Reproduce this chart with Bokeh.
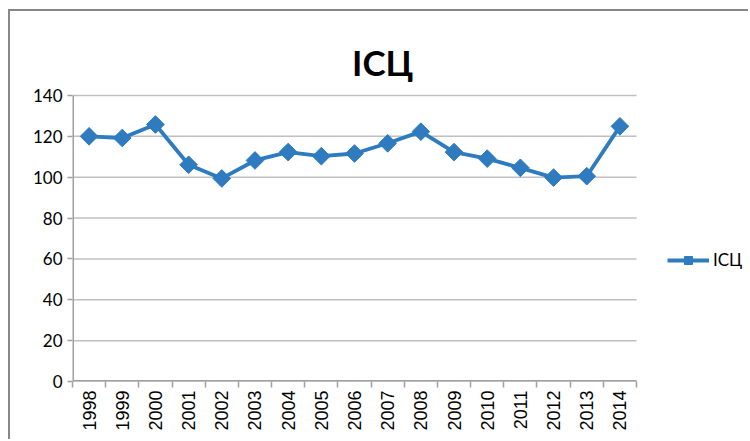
import math
from bokeh.plotting import figure
from bokeh.models import Range1d, FixedTicker, Legend, LegendItem, Label
from bokeh.embed import file_html
from bokeh.resources import INLINE

years = [1998, 1999, 2000, 2001, 2002, 2003, 2004, 2005, 2006,
         2007, 2008, 2009, 2010, 2011, 2012, 2013, 2014]
cpi = [120.0, 119.2, 125.8, 106.1, 99.4, 108.2, 112.3, 110.3, 111.6,
       116.6, 122.3, 112.3, 109.1, 104.6, 99.8, 100.5, 124.9]
y_ticks = [0, 20, 40, 60, 80, 100, 120, 140]
series_name = "ІСЦ"
title_text = "ІСЦ"

BLUE = "#2E7BBF"
GRID = "#C0C0C0"
AXIS = "#A0A0A0"

W, H = 740, 430
LEFT, TOP, BOTTOM = 62, 15, 60
# plot area of the reference: x 72..636, y 95..381 (page); frame extends
# further to hold title and legend
x0 = years[0] - 0.5
x1 = years[-1] + 0.5
frame_w = W - LEFT
x_end = x0 + (x1 - x0) * frame_w / (636 - 72)
y_top = y_ticks[-1] * (381 - 26) / (381 - 95)

p = figure(width=W, height=H, output_backend="svg", toolbar_location=None,
           x_range=Range1d(x0, x_end), y_range=Range1d(y_ticks[0], y_top),
           min_border_left=LEFT, min_border_right=0,
           min_border_top=TOP, min_border_bottom=BOTTOM,
           styles={"margin-left": "10px", "margin-top": "11px",
                   "box-shadow": "-2px -2px 0 0 #888888"})
p.outline_line_color = None
p.background_fill_color = "white"
p.border_fill_color = "white"
p.title.text = ""

# horizontal gridlines limited to the category span
p.segment(x0=[x0] * len(y_ticks), y0=y_ticks, x1=[x1] * len(y_ticks), y1=y_ticks,
          line_color=GRID, line_width=1.5, level="underlay")
# axis lines
p.segment(x0=[x0], y0=[y_ticks[0]], x1=[x0], y1=[y_ticks[-1]],
          line_color=AXIS, line_width=3)
p.segment(x0=[x0], y0=[y_ticks[0]], x1=[x1], y1=[y_ticks[0]],
          line_color=AXIS, line_width=3)

r_line = p.line(years, cpi, line_color=BLUE, line_width=3.8)
r_pts = p.scatter(years, cpi, marker="square", angle=math.pi / 4, size=12.5,
                  fill_color=BLUE, line_color=BLUE)

# chart title
p.add_layout(Label(x=2006.85, y=156.2, text=title_text, text_align="center",
                   text_baseline="alphabetic", text_font="Lato",
                   text_font_style="bold", text_font_size="35px",
                   text_color="#000000"))

# x axis with ticks between categories
p.xaxis.ticker = FixedTicker(ticks=years,
                             minor_ticks=[y - 0.5 for y in years] + [years[-1] + 0.5])
p.xaxis.major_label_overrides = {y: str(y) for y in years}
p.xaxis.major_tick_out = 0
p.xaxis.major_tick_in = 0
p.xaxis.minor_tick_out = 6
p.xaxis.minor_tick_in = 0
p.xaxis.minor_tick_line_color = AXIS
p.xaxis.minor_tick_line_width = 1.5
p.xaxis.axis_line_color = None
p.xaxis.major_label_orientation = math.pi / 2
p.xaxis.major_label_standoff = 3
p.xaxis.major_label_text_font = "Liberation Sans"
p.xaxis.major_label_text_font_size = "18px"
p.xaxis.major_label_text_color = "#000000"

# y axis
p.yaxis.ticker = FixedTicker(ticks=y_ticks)
p.yaxis.major_tick_out = 5
p.yaxis.major_tick_in = 0
p.yaxis.minor_tick_out = 0
p.yaxis.minor_tick_in = 0
p.yaxis.major_tick_line_color = AXIS
p.yaxis.major_tick_line_width = 1.5
p.yaxis.axis_line_color = None
p.yaxis.major_label_standoff = 5
p.yaxis.major_label_text_font = "Lato"
p.yaxis.major_label_text_font_size = "17px"
p.yaxis.major_label_text_color = "#000000"

p.xgrid.visible = False
p.ygrid.visible = False

legend = Legend(items=[LegendItem(label=series_name, renderers=[r_line, r_pts])],
                location=(595, 111), border_line_color=None,
                background_fill_alpha=0, padding=0, margin=0, spacing=0,
                glyph_width=42, glyph_height=20, label_standoff=4,
                label_text_font="Lato", label_text_font_size="17px",
                label_text_color="#000000")
p.add_layout(legend)

open("out.html", "w").write(file_html(p, INLINE))
